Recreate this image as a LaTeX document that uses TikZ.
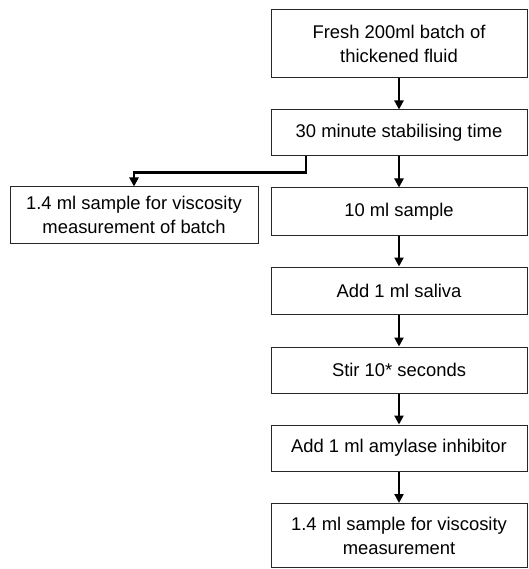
\documentclass[tikz,border=0pt]{standalone}
\usepackage{fontspec}
\setmainfont{Liberation Sans}
\usetikzlibrary{arrows.meta,calc}
\begin{document}
\begin{tikzpicture}[x=1pt,y=-1pt,
  box/.style={draw=black!85,line width=1pt,minimum width=256pt,align=center,inner sep=0pt,
    font=\fontsize{18.4}{24}\selectfont},
  arr/.style={line width=2.4pt,-{Triangle[width=9pt,length=9pt]}}]
\useasboundingbox (0,0) rectangle (528,569);
\node[box,minimum height=68pt] (b1) at (399,44) {Fresh 200ml batch of\\thickened fluid};
\node[box,minimum height=46pt] (b2) at (399,133) {30 minute stabilising time};
\node[box,minimum height=47pt] (b3) at (399,211.5) {10 ml sample};
\node[box,minimum height=47pt] (b4) at (399,290.5) {Add 1 ml saliva};
\node[box,minimum height=46pt] (b5) at (399,370) {Stir 10* seconds};
\node[box,minimum height=46pt] (b6) at (399,448) {Add 1 ml amylase inhibitor};
\node[box,minimum height=64pt] (b7) at (399,535.5) {1.4 ml sample for viscosity\\measurement};
\node[box,minimum width=248pt,minimum height=56pt] (lb) at (134,215) {1.4 ml sample for viscosity\\measurement of batch};
\draw[arr] (b1) -- (b2);
\draw[arr] (b2) -- (b3);
\draw[arr] (b3) -- (b4);
\draw[arr] (b4) -- (b5);
\draw[arr] (b5) -- (b6);
\draw[arr] (b6) -- (b7);
\coordinate (s) at (b2.south -| 306,0);
\draw[arr] (s) |- ($(lb.north)+(0,-14)$) -- (lb.north);
\end{tikzpicture}
\end{document}
